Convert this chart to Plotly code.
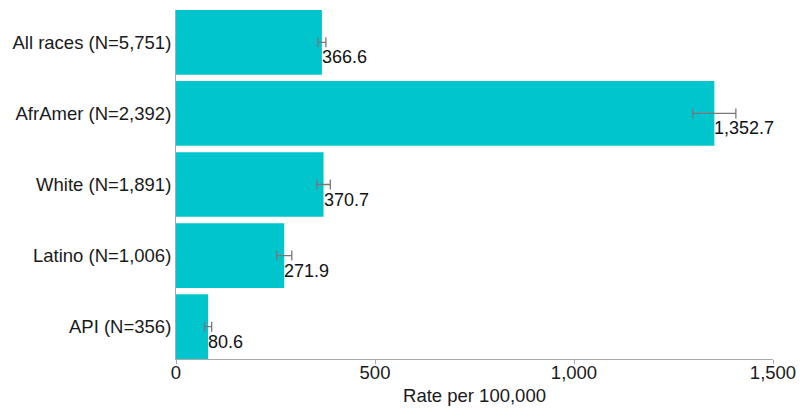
import plotly.graph_objects as go

categories = ["All races (N=5,751)", "AfrAmer (N=2,392)", "White (N=1,891)",
              "Latino (N=1,006)", "API (N=356)"]
rates = [366.6, 1352.7, 370.7, 271.9, 80.6]
errors = [10, 54, 17, 19, 9]
labels = ["366.6", "1,352.7", "370.7", "271.9", "80.6"]

FONT = "Arial"

fig = go.Figure()
fig.add_trace(go.Bar(
    x=rates, y=categories, orientation="h",
    marker=dict(color="#00C5CD", line=dict(width=0)),
    error_x=dict(type="data", array=errors, color="#777777", thickness=1.3, width=5),
    hoverinfo="skip",
))

for c, v, t in zip(categories, rates, labels):
    fig.add_annotation(x=v, y=c, text=t, showarrow=False, xanchor="left", yanchor="middle",
                       xshift=-2, yshift=-15, font=dict(family=FONT, size=18, color="#111111"))

fig.update_layout(
    width=796, height=402,
    margin=dict(l=168, r=31, t=2, b=51),
    plot_bgcolor="white", paper_bgcolor="white",
    bargap=0.09,
    showlegend=False,
    font=dict(family=FONT, size=18.5, color="#1a1a1a"),
)
fig.update_xaxes(range=[0, 1500], tickvals=[0, 500, 1000, 1500],
                 ticktext=["0", "500", "1,000", "1,500"],
                 showgrid=False, zeroline=False, showline=True, linecolor="#aaaaaa", linewidth=1,
                 ticks="outside", ticklen=4, tickcolor="#aaaaaa", ticklabelstandoff=-7,
                 title=dict(text="Rate per 100,000", font=dict(size=18.5), standoff=6))
fig.update_yaxes(categoryorder="array", categoryarray=categories,
                 range=[4.455, -0.455], showgrid=False, zeroline=False,
                 showline=True, linecolor="#aaaaaa", linewidth=1, ticks="", ticklen=0)

fig.write_html("out.html")
